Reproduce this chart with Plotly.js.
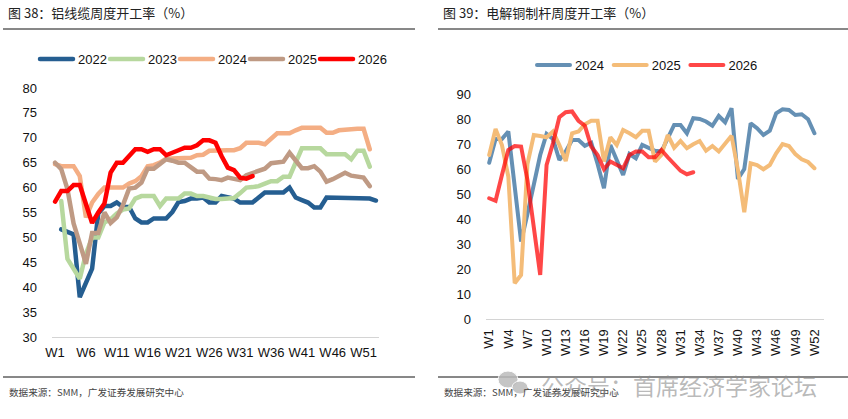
<!DOCTYPE html>
<html>
<head>
<meta charset="utf-8">
<script src="https://cdn.plot.ly/plotly-3.0.1.min.js"></script>
<style>
  html, body { margin: 0; padding: 0; background: #fff; }
  #chart { width: 848px; height: 419px; }
  .js-line { stroke-linecap: round; }
  /* entries are packed tighter than plotly measures, keep the last label whole */
  g.legend g.scrollbox { clip-path: none !important; }
</style>
</head>
<body>
<div id="chart"></div>
<script>
// Left chart: 铝线缆 weekly operating rate
const cableWeeks = [];
for (let i = 1; i <= 53; i++) cableWeeks.push('W' + i);
const cableTicks = ['W1', 'W6', 'W11', 'W16', 'W21', 'W26', 'W31', 'W36', 'W41', 'W46', 'W51'];

const cable2022 = [null, 51.6, 51.2, 50.6, 38, 41, 43.7, 54.8, 56.3, 56.3, 57, 56.1, 56.1, 53.8, 53, 53, 53.8, 53.8, 53.8, 55.1, 57.1, 57.3, 57.8, 57.8, 58, 57, 57, 58.3, 58, 57.8, 57, 57, 57, 58, 59, 59, 59, 59, 60, 58, 57.5, 57, 56, 56, 58, 58, 58, 58, 58, 58, 58, 57.8, 57.4];
const cable2023 = [null, 57.3, 45.7, 43.7, 41.7, 46.7, 50, 50, 53, 53.6, 54.8, 55.6, 55.8, 57.8, 58.3, 58.3, 58.3, 56.3, 57.8, 57.8, 57.8, 58.8, 58.8, 58.3, 58.3, 58, 57.7, 57.7, 57.7, 57.9, 58.9, 60, 60.1, 60.3, 60.8, 61.3, 61.3, 62.2, 62.2, 65.2, 67.9, 67.9, 67.9, 67.9, 66.7, 66.7, 66.7, 66.7, 65.7, 67.4, 67.4, 64.2];
const cable2024 = [64.7, 64.3, 64.3, 64.3, 62.3, 54, 57, 58.7, 60, 60, 60, 60, 60.8, 61.3, 62.3, 64.3, 64.5, 65, 65.8, 65.8, 66, 66, 66, 66.5, 66.6, 67.4, 67.5, 67.5, 67.5, 67.5, 67.9, 69, 69, 69, 68.7, 69.8, 70.9, 70.9, 70.9, 71.5, 72, 72, 72, 72, 71, 71, 71.5, 71.5, 71.7, 71.8, 71.8, 67.7];
const cable2025 = [65, 63.7, 59.7, 52.8, 48.8, 44.7, 50.9, 50.9, 55, 52.9, 54, 56.5, 59.8, 60, 61, 63.8, 63.8, 64.7, 65.7, 65.4, 65, 65, 64, 63.2, 63.2, 61.8, 61.7, 61.5, 62, 61.7, 61.5, 62.5, 63, 63.5, 63.8, 64.9, 65, 65.2, 67, 65.5, 63.9, 63.9, 64.3, 63.2, 61.2, 61.7, 62.3, 63, 62.4, 62.3, 62, 60.3];
const cable2026 = [57.2, 59.3, 59.3, 60.5, 60.5, 56.7, 52.9, 55, 56.8, 63, 65, 65, 66.3, 67.7, 67.7, 67.2, 67.7, 67.7, 66.5, 66.9, 67.5, 68, 68, 68.5, 69.5, 69.5, 69, 66.3, 64, 63.5, 62, 61.8, 62.3];

// Right chart: 电解铜制杆 weekly operating rate
const rodWeeks = [];
for (let i = 1; i <= 53; i++) rodWeeks.push('W' + i);
const rodTicks = ['W1', 'W4', 'W7', 'W10', 'W13', 'W16', 'W19', 'W22', 'W25', 'W28', 'W31', 'W34', 'W37', 'W40', 'W43', 'W46', 'W49', 'W52'];

const rod2024 = [62.5, 72, 72, 75, 53, 31, 42, 54, 65.6, 74, 72, 63.6, 67, 71.6, 71.6, 69.3, 70.5, 62, 52.3, 69.6, 63.6, 57.6, 66, 64.3, 69.6, 68.3, 67.3, 67, 72.3, 77.6, 77.6, 74.3, 80.3, 80, 79, 77.3, 81.2, 78.7, 84.3, 56, 60, 78.3, 76.3, 73.6, 75.3, 82.3, 83.9, 83.6, 81.6, 81.9, 79.9, 74.3];
const rod2025 = [65.6, 76, 69.6, 57, 14.3, 17.6, 62, 73.6, 73.2, 72.7, 75, 69.6, 63.2, 74.3, 75, 77.9, 79.3, 79.3, 63, 72.7, 69.6, 75.6, 74.3, 72.7, 75.3, 75.3, 63, 65.6, 73.6, 68.5, 71.2, 68.3, 69.9, 71.2, 67.3, 69.2, 67, 70, 73.3, 59.6, 42.7, 62.3, 61.6, 59.9, 61.6, 66.3, 70, 69.2, 66, 63.9, 62.8, 60.3];
const rod2026 = [48.3, 47.3, 57.6, 67.6, 69.2, 69, 55.6, 37, 17.6, 61.6, 70.3, 80.7, 82.7, 83, 79.3, 77.3, 69, 65.6, 59.9, 63, 61.6, 60.3, 65.6, 67, 67, 64.7, 64.7, 67.6, 64.7, 62, 59.3, 57.9, 58.7];

const labelFont = { family: 'Liberation Sans, Arial, sans-serif', size: 13, color: '#111' };
const cjk = 'Noto Sans CJK SC, sans-serif';

function lineTrace(name, x, y, color, width, axis, legend) {
    return {
        type: 'scatter', mode: 'lines', name: name, x: x, y: y,
        xaxis: 'x' + axis, yaxis: 'y' + axis, legend: legend,
        connectgaps: false,
        line: { color: color, width: width, shape: 'linear' },
        hoverinfo: 'none'
    };
}

const data = [
    lineTrace('2022', cableWeeks, cable2022, '#255E91', 4.5, '', 'legend'),
    lineTrace('2023', cableWeeks, cable2023, '#B7D89E', 4.5, '', 'legend'),
    lineTrace('2024', cableWeeks, cable2024, '#F4AE84', 4.5, '', 'legend'),
    lineTrace('2025', cableWeeks, cable2025, '#BF9A84', 4.5, '', 'legend'),
    lineTrace('2026', cableWeeks, cable2026, '#FF0000', 4.5, '', 'legend'),
    lineTrace('2024', rodWeeks, rod2024, '#6590B4', 4, '2', 'legend2'),
    lineTrace('2025', rodWeeks, rod2025, '#F4BC78', 4, '2', 'legend2'),
    lineTrace('2026', rodWeeks, rod2026, 'rgba(255,0,0,0.72)', 4, '2', 'legend2')
];

function paperLine(x0, x1, y) {
    return { type: 'line', xref: 'paper', yref: 'paper', x0: x0 / 848, x1: x1 / 848, y0: 1 - y / 419, y1: 1 - y / 419, line: { color: '#111', width: 1 } };
}

function paperCircle(x0, y0, x1, y1) {
    return { type: 'circle', xref: 'paper', yref: 'paper', x0: x0 / 848, x1: x1 / 848, y0: 1 - y0 / 419, y1: 1 - y1 / 419, fillcolor: '#BBBBBB', line: { color: '#fff', width: 1 }, opacity: 0.85 };
}

function paperText(text, x, y, size, color, anchor) {
    return { text: text, xref: 'paper', yref: 'paper', x: x / 848, y: 1 - y / 419, xanchor: anchor || 'left', yanchor: 'middle', showarrow: false, font: { family: cjk, size: size, color: color } };
}

const layout = {
    width: 848, height: 419,
    margin: { l: 0, r: 0, t: 0, b: 0 },
    paper_bgcolor: '#fff', plot_bgcolor: '#fff',
    font: labelFont,
    showlegend: true,
    xaxis: {
        domain: [52 / 848, 379 / 848], anchor: 'y', type: 'category',
        categoryorder: 'array', categoryarray: cableWeeks,
        range: [-0.5, 52.5], tickmode: 'array', tickvals: cableTicks, ticktext: cableTicks,
        tickangle: 0, ticks: '', showgrid: false, zeroline: false, ticklabelstandoff: 3,
        showline: true, linecolor: '#D4D4D4', linewidth: 1, tickfont: labelFont
    },
    yaxis: {
        domain: [1 - 337 / 419, 1 - 88 / 419], anchor: 'x',
        range: [30, 80], tickvals: [30, 35, 40, 45, 50, 55, 60, 65, 70, 75, 80], ticklabelstandoff: 14,
        showgrid: false, zeroline: false, showline: false, ticks: '', tickfont: labelFont
    },
    xaxis2: {
        domain: [486 / 848, 824 / 848], anchor: 'y2', type: 'category',
        categoryorder: 'array', categoryarray: rodWeeks,
        range: [-0.5, 52.5], tickmode: 'array', tickvals: rodTicks, ticktext: rodTicks,
        tickangle: -90, ticks: '', showgrid: false, zeroline: false, ticklabelstandoff: 4,
        showline: true, linecolor: '#D4D4D4', linewidth: 1, tickfont: labelFont
    },
    yaxis2: {
        domain: [1 - 319 / 419, 1 - 94 / 419], anchor: 'x2',
        range: [0, 90], tickvals: [0, 10, 20, 30, 40, 50, 60, 70, 80, 90], ticklabelstandoff: 14,
        showgrid: false, zeroline: false, showline: false, ticks: '', tickfont: labelFont
    },
    legend: {
        orientation: 'h', x: 35 / 848, y: 1 - 44 / 419, xanchor: 'left', yanchor: 'top',
        itemwidth: 33, entrywidth: 22, entrywidthmode: 'pixels', font: labelFont
    },
    legend2: {
        orientation: 'h', x: 532 / 848, y: 1 - 50 / 419, xanchor: 'left', yanchor: 'top',
        itemwidth: 33, entrywidth: 28.7, entrywidthmode: 'pixels', font: labelFont
    },
    shapes: [
        paperLine(3, 415, 29), paperLine(438, 848, 29),
        paperLine(3, 415, 377), paperLine(438, 848, 377),
        paperCircle(498, 371, 518, 388),
        paperCircle(512, 381, 528, 394)
    ],
    annotations: [
        paperText('图 38：铝线缆周度开工率（%）', 6, 13, 13, '#222'),
        paperText('图 39：电解铜制杆周度开工率（%）', 441, 13, 13, '#222'),
        paperText('数据来源：SMM，广发证券发展研究中心', 7, 392, 9.6, '#444'),
        paperText('数据来源：SMM，广发证券发展研究中心', 442, 392, 9.6, '#444'),
        paperText('公众号：首席经济学家论坛', 539, 385, 23, 'rgba(140,140,140,0.6)')
    ]
};

Plotly.newPlot('chart', data, layout, { staticPlot: true, displayModeBar: false });
</script>
</body>
</html>
